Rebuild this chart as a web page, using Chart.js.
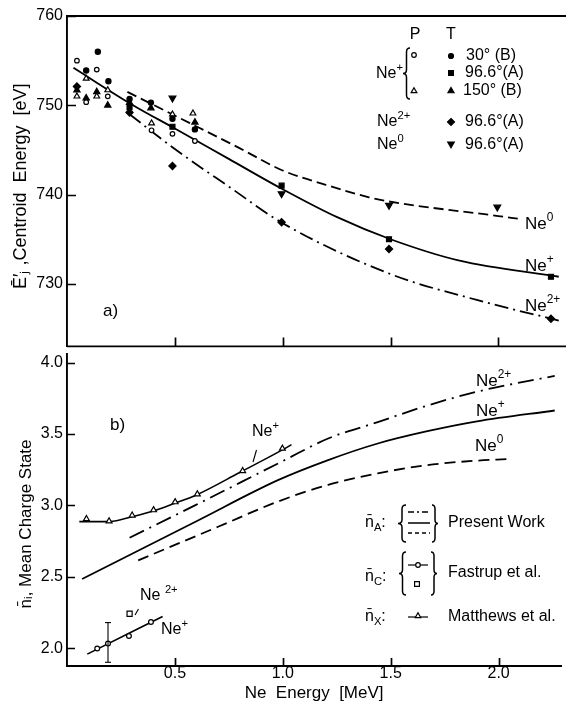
<!DOCTYPE html>
<html><head><meta charset="utf-8">
<script src="https://cdn.jsdelivr.net/npm/chart.js@4.4.0/dist/chart.umd.min.js"></script>
<style>
html,body{margin:0;padding:0;background:#fff;}
#wrap{position:relative;width:566px;height:712px;overflow:hidden;background:#fff;}
canvas{position:absolute;left:0;}
#c1{top:0;width:566px;height:360px;}
#c2{top:340px;width:566px;height:372px;}
</style></head><body>
<div id="wrap"><canvas id="c1" width="566" height="360"></canvas><canvas id="c2" width="566" height="372"></canvas></div>
<script>
// ---------- tick labels ----------
const energyTicks = [0.5, 1.0, 1.5, 2.0];
const centroidTicks = [730, 740, 750, 760];
const chargeTicks = [2.0, 2.5, 3.0, 3.5, 4.0];

// ---------- panel a): centroid energy [eV] vs Ne energy [MeV] ----------
const nePlusP30  = [[0.046,755.0],[0.089,750.35],[0.138,754.0],[0.189,751.0],[0.392,747.2],[0.489,746.8],[0.593,746.0]];
const nePlusT30  = [[0.089,753.9],[0.143,756.0],[0.192,752.7],[0.29,750.7],[0.389,750.3],[0.489,748.5],[0.593,747.3]];
const nePlusP150 = [[0.046,751.0],[0.089,753.0],[0.138,751.0],[0.189,751.7],[0.392,748.0],[0.489,749.0],[0.584,749.1]];
const nePlusT150 = [[0.046,751.7],[0.089,750.8],[0.138,751.5],[0.189,750.0],[0.29,750.3],[0.389,749.7],[0.593,748.1]];
const nePlus966  = [[0.29,749.8],[0.489,747.6],[0.995,741.0],[1.493,735.0],[2.244,730.8]];
const ne2Plus966 = [[0.046,752.1],[0.29,749.2],[0.489,743.2],[0.995,736.9],[1.493,733.9],[2.244,726.1]];
const ne0966     = [[0.489,750.8],[0.995,740.1],[1.493,738.8],[1.995,738.6]];
const fitNePlusA  = [[0.03,754.2],[0.3,750.1],[0.5,747.4],[0.75,744.0],[1.0,740.6],[1.25,737.5],[1.5,735.0],[1.82,732.6],[2.28,730.8]];
const fitNe0A     = [[0.28,751.5],[0.57,748.0],[0.8,745.2],[1.0,742.7],[1.2,741.1],[1.4,739.7],[1.5,739.2],[2.0,737.6],[2.09,737.3]];
const fitNe2PlusA = [[0.29,749.0],[0.5,745.1],[0.75,740.9],[1.0,736.8],[1.5,731.1],[1.9,728.2],[2.28,725.9]];

// ---------- panel b): mean charge state vs Ne energy [MeV] ----------
const presentNe2Plus = [[0.29,2.773],[0.6,3.005],[1.0,3.31],[1.21,3.468],[1.44,3.583],[1.67,3.699],[1.9,3.796],[2.26,3.907]];
const presentNePlus  = [[0.07,2.484],[0.6,2.889],[0.98,3.178],[1.21,3.317],[1.44,3.433],[1.67,3.519],[1.9,3.588],[2.26,3.664]];
const presentNe0     = [[0.33,2.615],[0.7,2.85],[0.98,3.028],[1.21,3.144],[1.44,3.224],[1.67,3.282],[1.9,3.313],[2.04,3.324]];
const matthewsPts    = [[0.090,2.905],[0.195,2.889],[0.302,2.93],[0.401,2.967],[0.501,3.023],[0.604,3.078],[0.814,3.241],[0.998,3.398]];
const matthewsLine   = [[0.057,2.886],[0.2,2.886],[0.3,2.92],[0.4,2.96],[0.5,3.015],[0.6,3.073],[0.8,3.23],[1.0,3.39],[1.04,3.425]];
const fastrupNePlus  = [[0.14,1.998],[0.19,2.032],[0.287,2.085],[0.389,2.183]];
const fastrupLine    = [[0.094,1.958],[0.443,2.222]];
const fastrupErr     = [[0.19,1.901,2.179]];
const fastrupNe2Plus = [[0.29,2.241]];

const FONT = '"Liberation Sans", Arial, sans-serif';
const INK = '#000';
const xy = a => a.map(p => ({x:p[0], y:p[1]}));

function lineDs(arr, dash, w){
  return {data:xy(arr), showLine:true, borderColor:INK, borderWidth:w||1.8, borderDash:dash,
    pointRadius:0, pointHoverRadius:0, fill:false, cubicInterpolationMode:'monotone', order:2};
}
function markDs(arr, style, r, filled, rot){
  return {data:xy(arr), showLine:false, pointStyle:style, pointRadius:r, pointHoverRadius:r,
    pointRotation:rot||0, pointBackgroundColor:filled?INK:'#fff', pointBorderColor:INK,
    pointBorderWidth:1.2, order:1};
}

function rich(ctx, x, y, parts, size){
  ctx.save(); ctx.fillStyle=INK; ctx.textBaseline='middle'; ctx.textAlign='left';
  let cx=x;
  parts.forEach(p=>{
    const t=p[0], k=p[1];
    const fs = k ? size*0.7 : size;
    const dy = k==='sup' ? -size*0.38 : (k==='sub' ? size*0.32 : 0);
    ctx.font = fs+'px '+FONT;
    ctx.fillText(t, cx, y+dy);
    cx += ctx.measureText(t).width;
  });
  ctx.restore();
}
function mark(ctx, style, x, y, r, filled){
  ctx.save(); ctx.beginPath();
  if(style==='circle') ctx.arc(x,y,r,0,Math.PI*2);
  else if(style==='rect'){const s=r*Math.SQRT1_2; ctx.rect(x-s,y-s,2*s,2*s);}
  else if(style==='diamond'){ctx.moveTo(x,y-r);ctx.lineTo(x+r,y);ctx.lineTo(x,y+r);ctx.lineTo(x-r,y);ctx.closePath();}
  else if(style==='tri'||style==='itri'){
    const s = style==='tri'?1:-1;
    ctx.moveTo(x, y-s*r); ctx.lineTo(x+r*0.866, y+s*r*0.5); ctx.lineTo(x-r*0.866, y+s*r*0.5); ctx.closePath();
  }
  ctx.fillStyle=filled?INK:'#fff'; ctx.fill(); ctx.strokeStyle=INK; ctx.lineWidth=1.2; ctx.stroke(); ctx.restore();
}
function brace(ctx, xArm, xTip, y1, y2){
  const m=(y1+y2)/2, xm=(xArm+xTip)/2, r=Math.min(4,(y2-y1)/8);
  ctx.save(); ctx.strokeStyle=INK; ctx.lineWidth=1.5; ctx.beginPath();
  ctx.moveTo(xArm,y1); ctx.quadraticCurveTo(xm,y1,xm,y1+r); ctx.lineTo(xm,m-r);
  ctx.quadraticCurveTo(xm,m,xTip,m); ctx.quadraticCurveTo(xm,m,xm,m+r);
  ctx.lineTo(xm,y2-r); ctx.quadraticCurveTo(xm,y2,xArm,y2); ctx.stroke(); ctx.restore();
}
function seg(ctx, x1,y1,x2,y2, w, dash){
  ctx.save(); ctx.strokeStyle=INK; ctx.lineWidth=w||1.3; ctx.setLineDash(dash||[]);
  ctx.beginPath(); ctx.moveTo(x1,y1); ctx.lineTo(x2,y2); ctx.stroke(); ctx.restore();
}
function inwardTicks(chart, xTicks, yTicks, len){
  const {ctx, chartArea:a, scales:{x,y}} = chart;
  ctx.save(); ctx.strokeStyle=INK; ctx.lineWidth=1.7; ctx.beginPath();
  xTicks.forEach(v=>{const px=Math.round(x.getPixelForValue(v))+0.5; ctx.moveTo(px,a.bottom); ctx.lineTo(px,a.bottom-len);});
  yTicks.forEach(v=>{const py=Math.round(y.getPixelForValue(v))+0.5; ctx.moveTo(a.left,py); ctx.lineTo(a.left+len,py);});
  ctx.stroke(); ctx.restore();
}

// ---------- panel a) decorations ----------
const decoA = {id:'decoA', afterDraw(chart){
  const {ctx, chartArea:a} = chart; const W = chart.width;
  seg(ctx, a.left, a.top, W, a.top, 1.9);
  seg(ctx, a.left, a.bottom, W, a.bottom, 1.9);
  inwardTicks(chart, energyTicks, centroidTicks, 9);
  const F=16;
  ctx.save(); ctx.fillStyle=INK; ctx.font=F+'px '+FONT; ctx.textAlign='center'; ctx.textBaseline='middle';
  ctx.fillText('P', 415, 35); ctx.fillText('T', 451, 35); ctx.restore();
  rich(ctx, 376, 74, [['Ne'],['+','sup']], F);
  brace(ctx, 410, 403, 48, 99);
  mark(ctx,'circle',414,55,2.3,false); mark(ctx,'circle',451,56,2.5,true);
  rich(ctx, 466, 56, [['30° (B)']], F);
  mark(ctx,'rect',451,73,3.4,true); rich(ctx, 465, 73, [['96.6°(A)']], F);
  mark(ctx,'tri',414,91,3.3,false); mark(ctx,'tri',451,91,3.5,true);
  rich(ctx, 463, 91, [['150° (B)']], F);
  rich(ctx, 377, 122, [['Ne'],['2+','sup']], F);
  mark(ctx,'diamond',451,122,3.5,true); rich(ctx, 465, 122, [['96.6°(A)']], F);
  rich(ctx, 377, 145, [['Ne'],['0','sup']], F);
  mark(ctx,'itri',451,144,3.8,true); rich(ctx, 465, 145, [['96.6°(A)']], F);
  rich(ctx, 525, 224, [['Ne'],['0','sup']], 17);
  rich(ctx, 525, 266, [['Ne'],['+','sup']], 17);
  rich(ctx, 525, 306, [['Ne'],['2+','sup']], 17);
  rich(ctx, 103, 311, [['a)']], 17);
}};

// ---------- panel b) decorations ----------
const OY = 340;
const decoB = {id:'decoB', afterDraw(chart){
  const {ctx, scales:{x,y}} = chart;
  inwardTicks(chart, energyTicks, chargeTicks, 8);
  fastrupErr.forEach(e=>{
    const px=x.getPixelForValue(e[0]), y1=y.getPixelForValue(e[1]), y2=y.getPixelForValue(e[2]);
    seg(ctx, px, y1, px, y2, 1.1); seg(ctx, px-3, y1, px+3, y1, 1.1); seg(ctx, px-3, y2, px+3, y2, 1.1);
  });
  const F=16;
  rich(ctx, 110, 425-OY, [['b)']], 17);
  rich(ctx, 252, 432-OY, [['Ne'],['+','sup']], 16);
  seg(ctx, 256.5, 450-OY, 253, 462-OY, 1.1);
  rich(ctx, 476, 381-OY, [['Ne'],['2+','sup']], 17);
  rich(ctx, 476, 411-OY, [['Ne'],['+','sup']], 17);
  rich(ctx, 475, 446-OY, [['Ne'],['0','sup']], 17);
  rich(ctx, 140, 596-OY, [['Ne '],['2+','sup']], 16);
  seg(ctx, 135, 615-OY, 138.5, 609-OY, 1.1);
  rich(ctx, 161, 630-OY, [['Ne'],['+','sup']], 16);
  // legend
  rich(ctx, 365, 523-OY, [['n̄'],['A','sub'],[':']], F);
  brace(ctx, 406, 398, 505-OY, 542-OY); brace(ctx, 432, 438, 505-OY, 542-OY);
  seg(ctx, 408, 512-OY, 430, 512-OY, 1.5, [6,3,2,3]);
  seg(ctx, 408, 523-OY, 430, 523-OY, 1.5);
  seg(ctx, 408, 533-OY, 430, 533-OY, 1.5, [4,3]);
  rich(ctx, 448, 523-OY, [['Present Work']], F);
  rich(ctx, 365, 577-OY, [['n̄'],['C','sub'],[':']], F);
  brace(ctx, 406, 399, 552-OY, 595-OY); brace(ctx, 431, 437, 552-OY, 595-OY);
  seg(ctx, 408, 565-OY, 428, 565-OY, 1.2); mark(ctx,'circle',418,565-OY,2.3,false);
  mark(ctx,'rect',417,584-OY,3.4,false);
  rich(ctx, 448, 573-OY, [['Fastrup et al.']], F);
  rich(ctx, 365, 617-OY, [['n̄'],['X','sub'],[':']], F);
  seg(ctx, 408, 617-OY, 428, 617-OY, 1.2); mark(ctx,'tri',418,616-OY,3.2,false);
  rich(ctx, 448, 617-OY, [['Matthews et al.']], F);
}};

const commonOpts = {responsive:false, animation:false, events:[],
  plugins:{legend:{display:false}, tooltip:{enabled:false}}};

new Chart(document.getElementById('c1'), {
  type:'scatter',
  data:{datasets:[
    lineDs(fitNe0A,[10,5]), lineDs(fitNePlusA,[]), lineDs(fitNe2PlusA,[14,5,2,5]),
    markDs(nePlusP30,'circle',2.3,false), markDs(nePlusT30,'circle',2.6,true),
    markDs(nePlusP150,'triangle',3.3,false), markDs(nePlusT150,'triangle',3.6,true),
    markDs(nePlus966,'rect',3.5,true), markDs(ne2Plus966,'rectRot',3.6,true),
    markDs(ne0966,'triangle',3.9,true,180)
  ]},
  options:Object.assign({}, commonOpts, {
    layout:{padding:{top:16,right:1,bottom:9,left:0}},
    scales:{
      x:{type:'linear', min:0, max:2.29, display:false},
      y:{type:'linear', min:723, max:760,
        afterFit:s=>{s.width=67;},
        afterBuildTicks:s=>{s.ticks=centroidTicks.map(v=>({value:v}));},
        grid:{display:false, drawTicks:false},
        border:{display:true, color:INK, width:1.9},
        ticks:{color:INK, font:{family:FONT,size:16}, padding:4, callback:v=>String(v)},
        title:{display:true, text:'Ē′ⱼ ,Centroid  Energy  [eV]  ', color:INK,
          font:{family:FONT,size:18}, padding:{top:10,bottom:0}}}
    }
  }),
  plugins:[decoA]
});

new Chart(document.getElementById('c2'), {
  type:'scatter',
  data:{datasets:[
    lineDs(presentNe2Plus,[16,6,2,6]), lineDs(presentNePlus,[]), lineDs(presentNe0,[11,6]),
    lineDs(matthewsLine,[],1.6), lineDs(fastrupLine,[],1.6),
    markDs(matthewsPts,'triangle',3.4,false), markDs(fastrupNePlus,'circle',2.4,false),
    markDs(fastrupNe2Plus,'rect',3.6,false)
  ]},
  options:Object.assign({}, commonOpts, {
    layout:{padding:{top:11,right:1,bottom:0,left:0}},
    scales:{
      x:{type:'linear', min:0, max:2.29,
        afterFit:s=>{s.height=46;},
        afterBuildTicks:s=>{s.ticks=energyTicks.map(v=>({value:v}));},
        grid:{display:false, drawTicks:false},
        border:{display:true, color:INK, width:1.9},
        ticks:{color:INK, font:{family:FONT,size:16,lineHeight:1}, padding:0, maxRotation:0, callback:v=>v.toFixed(1)},
        title:{display:true, text:'Ne  Energy  [MeV]', color:INK, font:{family:FONT,size:17}, padding:{top:0,bottom:8}}},
      y:{type:'linear', min:1.875, max:4.0625,
        afterFit:s=>{s.width=67;},
        afterBuildTicks:s=>{s.ticks=chargeTicks.map(v=>({value:v}));},
        grid:{display:false, drawTicks:false},
        border:{display:true, color:INK, width:1.9},
        ticks:{color:INK, font:{family:FONT,size:16}, padding:4, callback:v=>v.toFixed(1)},
        title:{display:true, text:'n̄ᵢ, Mean Charge State      ', color:INK,
          font:{family:FONT,size:17}, padding:{top:16,bottom:0}}}
    }
  }),
  plugins:[decoB]
});
</script>
</body></html>
